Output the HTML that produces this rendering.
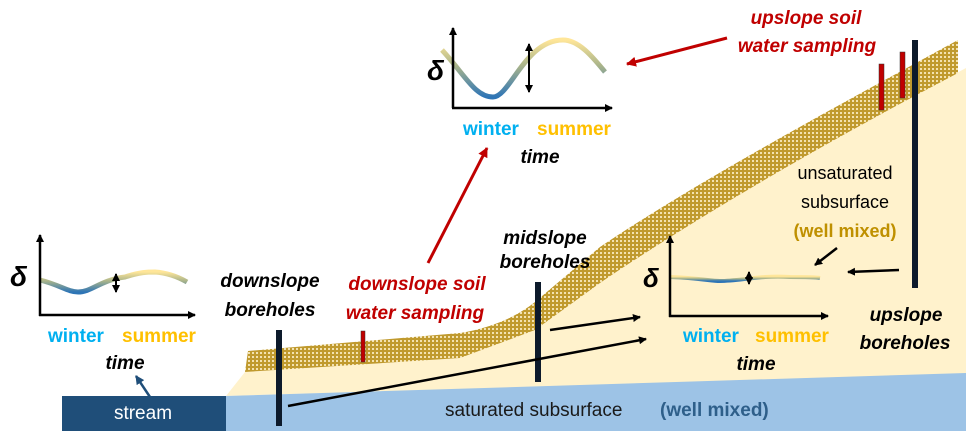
<!DOCTYPE html>
<html><head><meta charset="utf-8"><style>
html,body{margin:0;padding:0;background:#fff;}
svg{display:block;font-family:"Liberation Sans",sans-serif;}
.bi{font-weight:bold;font-style:italic;font-size:19px;}
</style></head><body>
<svg width="966" height="439" viewBox="0 0 966 439">
<defs>
<pattern id="h" width="4" height="4" patternUnits="userSpaceOnUse">
<rect width="4" height="4" fill="#c09a2e"/><rect x="0" y="0" width="2" height="2" fill="#f3e2b0"/>
</pattern>
<linearGradient id="g1" x1="0" y1="1" x2="0" y2="0" gradientUnits="objectBoundingBox">
<stop offset="0" stop-color="#2e75b6"/><stop offset="0.55" stop-color="#a9b48a"/><stop offset="1" stop-color="#ffe699"/>
</linearGradient>
<marker id="a" markerWidth="8" markerHeight="8" refX="7" refY="4" orient="auto" markerUnits="userSpaceOnUse"><path d="M0,0L8,4L0,8z" fill="#000"/></marker>
<marker id="ab" markerWidth="8" markerHeight="8" refX="1" refY="4" orient="auto" markerUnits="userSpaceOnUse"><path d="M8,0L0,4L8,8z" fill="#000"/></marker>
<marker id="ar" markerWidth="10" markerHeight="10" refX="9" refY="5" orient="auto" markerUnits="userSpaceOnUse"><path d="M0,0L10,5L0,10z" fill="#c00000"/></marker>
<marker id="abl" markerWidth="9" markerHeight="9" refX="8" refY="4.5" orient="auto" markerUnits="userSpaceOnUse"><path d="M0,0L9,4.5L0,9z" fill="#1f4e79"/></marker>
</defs>
<!-- beige -->
<path d="M226,396 L245,372 L460,358 L535,330 L600,283 C700,215 830,140 966,68 L966,374 L226,396z" fill="#fff2cc"/>
<!-- hatched band -->
<path d="M248,351 L460,333 C490,328 515,318 535,302 L600,247 C700,180 830,110 958,40 L958,73 C830,140 700,215 600,283 L535,330 L460,358 L245,372z" fill="url(#h)"/>
<!-- blue -->
<path d="M226,396 L966,373 L966,431 L226,431z" fill="#9dc3e6"/>
<rect x="62" y="396" width="164" height="35" fill="#1f4e79"/>
<text x="143" y="419" fill="#fff" font-size="19" text-anchor="middle">stream</text>
<text x="445" y="416" font-size="19" fill="#1a1a1a">saturated subsurface</text>
<text x="660" y="416" font-size="19" font-weight="bold" fill="#2e5f8a">(well mixed)</text>
<!-- boreholes -->
<rect x="276" y="330" width="6" height="96" fill="#0d1a2b"/>
<rect x="535" y="282" width="6" height="100" fill="#0d1a2b"/>
<rect x="912" y="40" width="6" height="248" fill="#0d1a2b"/>
<rect x="361" y="331" width="4" height="31" fill="#c00000" stroke="#333" stroke-width="0.5"/>
<rect x="879" y="64" width="5" height="46" fill="#c00000" stroke="#333" stroke-width="0.5"/>
<rect x="900" y="52" width="5" height="46" fill="#c00000" stroke="#333" stroke-width="0.5"/>
<!-- arrows -->
<g stroke="#000" stroke-width="2.5" fill="none">
<line x1="288" y1="406" x2="646" y2="339" marker-end="url(#a)"/>
<line x1="550" y1="330" x2="640" y2="317" marker-end="url(#a)"/>
<line x1="837" y1="248" x2="815" y2="265" marker-end="url(#a)"/>
<line x1="899" y1="270" x2="848" y2="272" marker-end="url(#a)"/>
</g>
<line x1="150" y1="397" x2="136" y2="376" stroke="#1f4e79" stroke-width="2.5" marker-end="url(#abl)"/>
<line x1="428" y1="263" x2="487" y2="148" stroke="#c00000" stroke-width="3" marker-end="url(#ar)"/>
<line x1="727" y1="38" x2="627" y2="64" stroke="#c00000" stroke-width="3" marker-end="url(#ar)"/>
<!-- top chart -->
<path d="M442,50 C465,75 475,97 493,97 C510,97 525,40 563,40 C580,40 595,60 605,72" stroke="url(#g1)" stroke-width="5" fill="none"/>
<g stroke="#000" stroke-width="2.5" fill="none">
<line x1="453" y1="108" x2="453" y2="28" marker-end="url(#a)"/>
<line x1="452" y1="108" x2="612" y2="108" marker-end="url(#a)"/>
<line x1="529" y1="44" x2="529" y2="92" marker-start="url(#ab)" marker-end="url(#a)" stroke-width="2"/>
</g>
<text x="427" y="80" font-size="28" font-weight="bold" font-style="italic">δ</text>
<text x="463" y="135" font-size="19" font-weight="bold" fill="#00b0f0">winter</text>
<text x="537" y="135" font-size="19" font-weight="bold" fill="#ffc000">summer</text>
<text x="540" y="163" class="bi" text-anchor="middle">time</text>
<!-- left chart -->
<path d="M40,280 C60,285 68,292 78,292 C92,292 100,280 125,277 C140,272 148,272 155,272 C170,273 180,278 187,282" stroke="url(#g1)" stroke-width="5" fill="none"/>
<g stroke="#000" stroke-width="2.5" fill="none">
<line x1="40" y1="316" x2="40" y2="235" marker-end="url(#a)"/>
<line x1="39" y1="315" x2="195" y2="315" marker-end="url(#a)"/>
<line x1="116" y1="274" x2="116" y2="292" marker-start="url(#ab)" marker-end="url(#a)" stroke-width="2"/>
</g>
<text x="10" y="286" font-size="28" font-weight="bold" font-style="italic">δ</text>
<text x="48" y="342" font-size="19" font-weight="bold" fill="#00b0f0">winter</text>
<text x="122" y="342" font-size="19" font-weight="bold" fill="#ffc000">summer</text>
<text x="125" y="369" class="bi" text-anchor="middle">time</text>
<!-- right chart -->
<path d="M670,277 C700,278 710,281 720,281 C740,281 760,275 790,277 C805,277 815,277 820,278" stroke="url(#g1)" stroke-width="4" fill="none"/>
<g stroke="#000" stroke-width="2.5" fill="none">
<line x1="670" y1="317" x2="670" y2="236" marker-end="url(#a)"/>
<line x1="669" y1="316" x2="828" y2="316" marker-end="url(#a)"/>
<line x1="749" y1="272" x2="749" y2="284" marker-start="url(#ab)" marker-end="url(#a)" stroke-width="2"/>
</g>
<text x="643" y="287" font-size="26" font-weight="bold" font-style="italic">δ</text>
<text x="683" y="342" font-size="19" font-weight="bold" fill="#00b0f0">winter</text>
<text x="755" y="342" font-size="19" font-weight="bold" fill="#ffc000">summer</text>
<text x="756" y="370" class="bi" text-anchor="middle">time</text>
<!-- labels -->
<g class="bi" text-anchor="middle">
<text x="270" y="287">downslope</text><text x="270" y="316">boreholes</text>
<text x="417" y="290" fill="#c00000">downslope soil</text><text x="415" y="319" fill="#c00000">water sampling</text>
<text x="545" y="244">midslope</text><text x="545" y="268">boreholes</text>
<text x="806" y="24" fill="#c00000">upslope soil</text><text x="807" y="52" fill="#c00000">water sampling</text>
<text x="906" y="321">upslope</text><text x="905" y="349">boreholes</text>
</g>
<text x="845" y="179" font-size="18" text-anchor="middle">unsaturated</text>
<text x="845" y="208" font-size="18" text-anchor="middle">subsurface</text>
<text x="845" y="237" font-size="18" font-weight="bold" fill="#bf9000" text-anchor="middle">(well mixed)</text>
</svg>
</body></html>
